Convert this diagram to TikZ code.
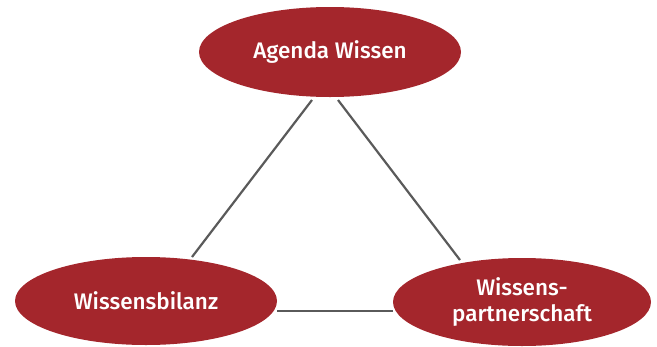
\documentclass[tikz,border=0pt]{standalone}
\usepackage{fontspec}
\setmainfont{Fira Sans}
\newfontfamily\medfont{Fira Sans Medium}
\usetikzlibrary{shapes.geometric}
\definecolor{wred}{HTML}{A4262C}
\definecolor{wgray}{HTML}{5A5A5A}
\begin{document}
\begin{tikzpicture}[x=1pt,y=-1pt,
  blob/.style={ellipse,fill=wred,draw=none,inner sep=0pt,text=white,
    font=\medfont\fontsize{22.5}{25.5}\selectfont,align=center},
  link/.style={draw=wgray,line width=2.2pt}]
\useasboundingbox (0,0) rectangle (657,346);
\node[blob,minimum width=262,minimum height=90] (top) at (330,52) {Agenda Wissen};
\node[blob,minimum width=262,minimum height=88] (left) at (146,301) {Wissensbilanz};
\node[blob,minimum width=258,minimum height=88] (right) at (522,302) {Wissens-\\partnerschaft};
\coordinate (t1) at (312,100);
\coordinate (l1) at (192,257);
\coordinate (t2) at (338,100);
\coordinate (r1) at (460,260);
\coordinate (l2) at (277,311);
\coordinate (r2) at (393,311);
\draw[link] (t1) -- (l1);
\draw[link] (t2) -- (r1);
\draw[link] (l2) -- (r2);
\end{tikzpicture}
\end{document}
